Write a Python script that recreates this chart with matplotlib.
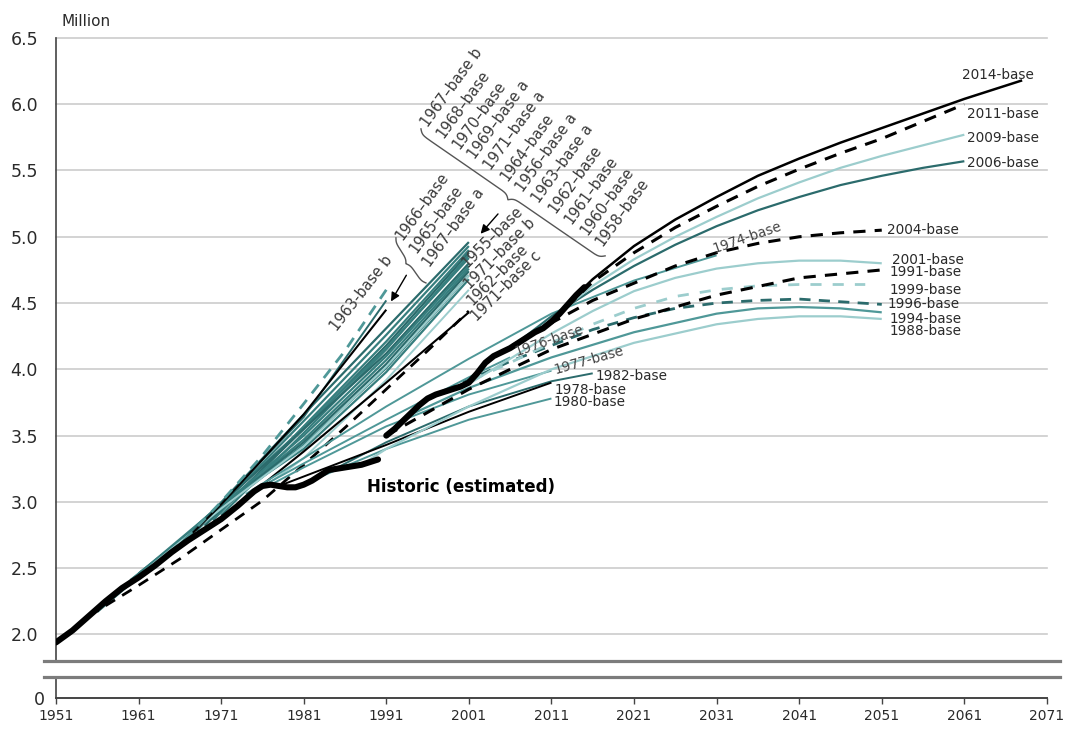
import numpy as np
import matplotlib.pyplot as plt
from matplotlib.lines import Line2D

# historic population estimates, million
hist_a_years = [1951, 1953, 1955, 1957, 1959, 1961, 1963, 1965, 1967, 1969, 1971, 1973,
                1975, 1976, 1977, 1978, 1979, 1980, 1981, 1982, 1983, 1984, 1985, 1986,
                1987, 1988, 1989, 1990]
hist_a_vals = [1.94, 2.03, 2.14, 2.25, 2.35, 2.43, 2.52, 2.62, 2.71, 2.79, 2.87, 2.97,
               3.08, 3.12, 3.13, 3.12, 3.11, 3.11, 3.13, 3.16, 3.20, 3.24, 3.25, 3.26,
               3.27, 3.28, 3.30, 3.32]
hist_b_years = [1991, 1992, 1993, 1994, 1995, 1996, 1997, 1998, 1999, 2000, 2001, 2002,
                2003, 2004, 2005, 2006, 2007, 2008, 2009, 2010, 2011, 2012, 2013, 2014, 2015]
hist_b_vals = [3.50, 3.55, 3.61, 3.67, 3.73, 3.78, 3.81, 3.83, 3.85, 3.87, 3.90, 3.97,
               4.05, 4.10, 4.13, 4.16, 4.20, 4.24, 4.28, 4.31, 4.36, 4.42, 4.49, 4.56, 4.62]

# 1955-1971 base projections ending 2001
bundle_years = [
    [1967, 1981, 1991, 2001],
    [1968, 1981, 1991, 2001],
    [1970, 1981, 1991, 2001],
    [1969, 1981, 1991, 2001],
    [1971, 1981, 1991, 2001],
    [1964, 1981, 1991, 2001],
    [1956, 1966, 1981, 1991, 2001],
    [1963, 1981, 1991, 2001],
    [1962, 1981, 1991, 2001],
    [1961, 1981, 1991, 2001],
    [1960, 1981, 1991, 2001],
    [1958, 1971, 1981, 1991, 2001],
]
bundle_vals = [
    [2.73, 3.66, 4.31, 4.96],
    [2.78, 3.61, 4.26, 4.93],
    [2.86, 3.57, 4.21, 4.90],
    [2.82, 3.55, 4.18, 4.88],
    [2.90, 3.52, 4.15, 4.86],
    [2.59, 3.56, 4.16, 4.84],
    [2.17, 2.70, 3.55, 4.12, 4.80],
    [2.54, 3.50, 4.10, 4.78],
    [2.50, 3.47, 4.07, 4.76],
    [2.46, 3.45, 4.04, 4.74],
    [2.41, 3.43, 4.01, 4.71],
    [2.30, 2.98, 3.40, 3.98, 4.68],
]

p1955_years = [1955, 1971, 1981, 1991, 2001]
p1955_vals = [2.14, 2.95, 3.42, 4.02, 4.71]
p1971b_years = [1971, 1981, 1991, 2001]
p1971b_vals = [2.88, 3.33, 3.92, 4.60]
p1952_years = [1955, 1961, 1966, 1971, 1976, 1981, 1986, 1991, 1996, 2001]
p1952_vals = [2.14, 2.37, 2.57, 2.79, 3.01, 3.28, 3.56, 3.85, 4.14, 4.44]
p1971c_years = [1971, 1981, 1991, 2001]
p1971c_vals = [2.88, 3.38, 3.90, 4.43]

# projections ending 1991
p1963b_years = [1963, 1967, 1971, 1976, 1981, 1986, 1991]
p1963b_vals = [2.52, 2.74, 3.00, 3.35, 3.74, 4.14, 4.60]
p1966_years = [1966, 1971, 1981, 1991]
p1966_vals = [2.68, 2.99, 3.64, 4.52]
p1967a_years = [1967, 1971, 1981, 1991]
p1967a_vals = [2.73, 2.98, 3.66, 4.45]

# 1974-1982 bases
p1974_years = [1974, 1981, 1991, 2001, 2011, 2021, 2031]
p1974_vals = [3.06, 3.33, 3.72, 4.08, 4.42, 4.67, 4.86]
p1976_years = [1976, 1981, 1991, 2001, 2006]
p1976_vals = [3.12, 3.29, 3.62, 3.94, 4.09]
p1977_years = [1977, 1981, 1991, 2001, 2011]
p1977_vals = [3.13, 3.26, 3.57, 3.81, 3.99]
p1978_years = [1978, 1991, 2001, 2011]
p1978_vals = [3.12, 3.43, 3.68, 3.90]
p1980_years = [1980, 1991, 2001, 2011]
p1980_vals = [3.11, 3.40, 3.62, 3.78]
p1982_years = [1982, 1991, 2001, 2011, 2016]
p1982_vals = [3.16, 3.45, 3.72, 3.91, 3.97]

# 1988-2014 bases
p1988_years = [1988, 1991, 2001, 2011, 2021, 2031, 2036, 2041, 2046, 2051]
p1988_vals = [3.28, 3.40, 3.72, 4.00, 4.20, 4.34, 4.38, 4.40, 4.40, 4.38]
p1991_years = [1991, 2001, 2011, 2021, 2031, 2041, 2051]
p1991_vals = [3.50, 3.85, 4.15, 4.38, 4.56, 4.69, 4.75]
p1994_years = [1994, 2001, 2011, 2021, 2031, 2036, 2041, 2046, 2051]
p1994_vals = [3.66, 3.86, 4.09, 4.28, 4.42, 4.46, 4.47, 4.46, 4.43]
p1996_years = [1996, 2001, 2006, 2011, 2016, 2021, 2026, 2031, 2036, 2041, 2046, 2051]
p1996_vals = [3.78, 3.92, 4.06, 4.18, 4.30, 4.39, 4.46, 4.50, 4.52, 4.53, 4.51, 4.49]
p1999_years = [1999, 2006, 2011, 2016, 2021, 2026, 2031, 2036, 2041, 2049]
p1999_vals = [3.85, 4.05, 4.20, 4.34, 4.46, 4.55, 4.60, 4.63, 4.64, 4.64]
p2001_years = [2001, 2006, 2011, 2016, 2021, 2026, 2031, 2036, 2041, 2046, 2051]
p2001_vals = [3.89, 4.08, 4.27, 4.44, 4.59, 4.69, 4.76, 4.80, 4.82, 4.82, 4.80]
p2004_years = [2004, 2011, 2016, 2021, 2026, 2031, 2036, 2041, 2046, 2051]
p2004_vals = [4.10, 4.35, 4.52, 4.65, 4.78, 4.88, 4.95, 5.00, 5.03, 5.05]
p2006_years = [2006, 2011, 2016, 2021, 2026, 2031, 2036, 2041, 2046, 2051, 2056, 2061]
p2006_vals = [4.16, 4.40, 4.60, 4.78, 4.94, 5.08, 5.20, 5.30, 5.39, 5.46, 5.52, 5.57]
p2009_years = [2009, 2016, 2021, 2026, 2031, 2036, 2041, 2046, 2051, 2056, 2061]
p2009_vals = [4.28, 4.63, 4.83, 5.00, 5.15, 5.29, 5.41, 5.52, 5.61, 5.69, 5.77]
p2011_years = [2011, 2016, 2021, 2026, 2031, 2036, 2041, 2046, 2051, 2056, 2061]
p2011_vals = [4.36, 4.66, 4.88, 5.07, 5.23, 5.38, 5.51, 5.63, 5.74, 5.87, 6.00]
p2014_years = [2014, 2016, 2021, 2026, 2031, 2036, 2041, 2046, 2051, 2056, 2061, 2066, 2068]
p2014_vals = [4.56, 4.68, 4.93, 5.13, 5.30, 5.46, 5.59, 5.71, 5.82, 5.93, 6.04, 6.14, 6.18]

y_ticks = [2.0, 2.5, 3.0, 3.5, 4.0, 4.5, 5.0, 5.5, 6.0, 6.5]
x_ticks = list(range(1951, 2072, 10))

big_group = ['1967–base b', '1968–base', '1970–base', '1969–base a', '1971–base a',
             '1964–base', '1956–base a', '1963–base a', '1962–base', '1961–base',
             '1960–base', '1958–base']
small_group = ['1966–base', '1965–base', '1967–base a']
end_group = ['1955–base', '1971–base b', '1962–base', '1971–base c']

DARK = '#2b6b6c'
MID = '#4f9898'
LIGHT = '#9ccdcd'
BUNDLE = '#367e7e'
TXT = '#2a2a2a'

fig = plt.figure(figsize=(10.66, 7.31), dpi=100)
ax = fig.add_axes([0.0525, 0.0958, 0.9296, 0.8523])
axb = fig.add_axes([0.0525, 0.0451, 0.9296, 0.0287])

ax.set_xlim(1951, 2071)
axb.set_xlim(1951, 2071)
ax.set_ylim(1.8, 6.5)
axb.set_ylim(0, 1)


def line(x, y, color, lw=1.3, ls='-', z=2):
    ax.plot(x, y, color=color, lw=lw, linestyle=ls, zorder=z,
            solid_capstyle='butt', dash_capstyle='butt')


DASH = (0, (4, 3))

# early projections
for i, (xs, ys) in enumerate(zip(bundle_years, bundle_vals)):
    line(xs, ys, BUNDLE if i % 3 else DARK, lw=1.6)
line(p1955_years, p1955_vals, LIGHT, lw=1.4)
line(p1971b_years, p1971b_vals, LIGHT, lw=1.4)
line(p1971c_years, p1971c_vals, 'black', lw=1.5)
line(p1952_years, p1952_vals, 'black', lw=2.0, ls=DASH)
line(p1966_years, p1966_vals, DARK, lw=1.4)
line(p1967a_years, p1967a_vals, 'black', lw=1.5)
line(p1963b_years, p1963b_vals, MID, lw=2.0, ls=DASH)

# 1970s and early 1980s
line(p1974_years, p1974_vals, MID, lw=1.4)
line(p1976_years, p1976_vals, MID, lw=1.4)
line(p1977_years, p1977_vals, MID, lw=1.4)
line(p1980_years, p1980_vals, MID, lw=1.4)
line(p1982_years, p1982_vals, DARK, lw=1.4)
line(p1978_years, p1978_vals, 'black', lw=1.4)

# later projections
line(p1988_years, p1988_vals, LIGHT, lw=1.6)
line(p1994_years, p1994_vals, MID, lw=1.6)
line(p1996_years, p1996_vals, DARK, lw=2.0, ls=DASH)
line(p1999_years, p1999_vals, LIGHT, lw=2.0, ls=(0, (4, 4)))
line(p1991_years, p1991_vals, 'black', lw=2.2, ls=DASH)
line(p2001_years, p2001_vals, LIGHT, lw=1.6)
line(p2004_years, p2004_vals, 'black', lw=2.2, ls=DASH)
line(p2006_years, p2006_vals, DARK, lw=1.6)
line(p2009_years, p2009_vals, LIGHT, lw=1.6)
line(p2011_years, p2011_vals, 'black', lw=2.2, ls=DASH)
line(p2014_years, p2014_vals, 'black', lw=1.8)

# historic
ax.plot(hist_a_years, hist_a_vals, color='black', lw=4.4, zorder=5,
        solid_capstyle='round', solid_joinstyle='round')
ax.plot(hist_b_years, hist_b_vals, color='black', lw=4.4, zorder=5,
        solid_capstyle='round', solid_joinstyle='round')

# axes styling
for a in (ax, axb):
    for s in ('top', 'right'):
        a.spines[s].set_visible(False)
    a.spines['left'].set_color('#444444')
    a.spines['left'].set_linewidth(1.2)
ax.spines['bottom'].set_visible(False)
axb.spines['bottom'].set_color('#444444')
axb.spines['bottom'].set_linewidth(1.4)

ax.set_yticks(y_ticks)
ax.set_yticklabels([f'{v:.1f}' for v in y_ticks])
ax.tick_params(axis='y', length=0, pad=13, labelsize=12.5, labelcolor=TXT)
ax.tick_params(axis='x', bottom=False, labelbottom=False)
ax.yaxis.grid(True, color='#cccccc', lw=1.2, zorder=0)
ax.set_axisbelow(True)
for gl in ax.get_ygridlines():
    gl.set_clip_on(False)

axb.set_yticks([0])
axb.set_yticklabels(['0'])
axb.tick_params(axis='y', length=0, pad=8, labelsize=12.5, labelcolor=TXT)
axb.set_xticks(x_ticks)
axb.set_xticklabels([str(x) for x in x_ticks])
axb.tick_params(axis='x', length=4, width=1, color='#444444', pad=4,
                labelsize=10, labelcolor=TXT)

# axis break
for yf in (1 - 661 / 731, 1 - 677 / 731):
    fig.add_artist(Line2D([0.0413, 0.9940], [yf, yf], transform=fig.transFigure,
                          color='#7c7c7c', lw=2.3))

fig.text(0.058, 0.970, 'Million', fontsize=11, color=TXT, va='center', ha='left')

# labels at line ends
right_labels = [
    ('2014-base', 2060.7, 6.221), ('2011-base', 2061.3, 5.927),
    ('2009-base', 2061.3, 5.746), ('2006-base', 2061.3, 5.557),
    ('2004-base', 2051.6, 5.052), ('2001-base', 2052.2, 4.826),
    ('1991-base', 2052.0, 4.735), ('1999-base', 2052.0, 4.600),
    ('1996-base', 2051.7, 4.494), ('1994-base', 2052.0, 4.381),
    ('1988-base', 2052.0, 4.290), ('1982-base', 2016.3, 3.951),
    ('1978-base', 2011.4, 3.845), ('1980-base', 2011.2, 3.755),
]
for txt, x, y in right_labels:
    ax.text(x, y, txt, fontsize=9.8, color=TXT, ha='left', va='center', zorder=6)

for txt, x, y, rot in [('1974-base', 2030.8, 4.879, 19), ('1976-base', 2006.8, 4.10, 19),
                       ('1977-base', 2011.5, 3.966, 16)]:
    ax.text(x, y, txt, fontsize=9.8, color='#444444', ha='left', va='baseline',
            rotation=rot, rotation_mode='anchor', zorder=6)

ax.text(1988.66, 3.114, 'Historic (estimated)', fontsize=12, fontweight='bold',
        color='black', ha='left', va='center', zorder=6)

rot_kw = dict(fontsize=10.5, color='#3a3a3a', ha='left', va='baseline',
              rotation_mode='anchor', zorder=6)
for i, txt in enumerate(big_group):
    ax.text(1996.0 + 1.93 * i, 5.821 - 0.0816 * i, txt, rotation=54, **rot_kw)
for txt, x, y in zip(small_group, [1992.9, 1994.6, 1996.3], [4.969, 4.871, 4.765]):
    ax.text(x, y, txt, rotation=54, **rot_kw)
for txt, x, y in zip(end_group, [2000.8, 2001.1, 2001.4, 2002.0],
                     [4.765, 4.600, 4.479, 4.358]):
    ax.text(x, y, txt, rotation=45, **rot_kw)
ax.text(1985.0, 4.283, '1963-base b', rotation=52, **rot_kw)


def brace(p0, p1, depth, color='#555555', lw=1.0):
    a = ax.transData.transform(p0)
    b = ax.transData.transform(p1)
    vec = b - a
    length = np.hypot(*vec)
    u = vec / length
    n = np.array([u[1], -u[0]])
    s = np.linspace(0, length / 2, 80)
    k = 0.45
    h = 1 / (1 + np.exp(-k * s)) + 1 / (1 + np.exp(-k * (s - length / 2))) - 0.5
    s_all = np.concatenate([s, length - s[::-1]])
    h_all = np.concatenate([h, h[::-1]]) * depth
    pts = a + np.outer(s_all, u) + np.outer(h_all, n)
    pts = ax.transData.inverted().transform(pts)
    ax.plot(pts[:, 0], pts[:, 1], color=color, lw=lw, clip_on=False, zorder=6)


brace((1995.2, 5.814), (2017.5, 4.856), 9)
brace((1992.17, 4.992), (1995.8, 4.652), 6)

arrow_kw = dict(arrowstyle='-|>', color='black', lw=1.0, mutation_scale=13)
ax.annotate('', xy=(2002.2, 5.007), xytext=(2004.75, 5.188), arrowprops=arrow_kw)
ax.annotate('', xy=(1991.4, 4.494), xytext=(1993.6, 4.728), arrowprops=arrow_kw)

fig.savefig('out.png', dpi=100)
